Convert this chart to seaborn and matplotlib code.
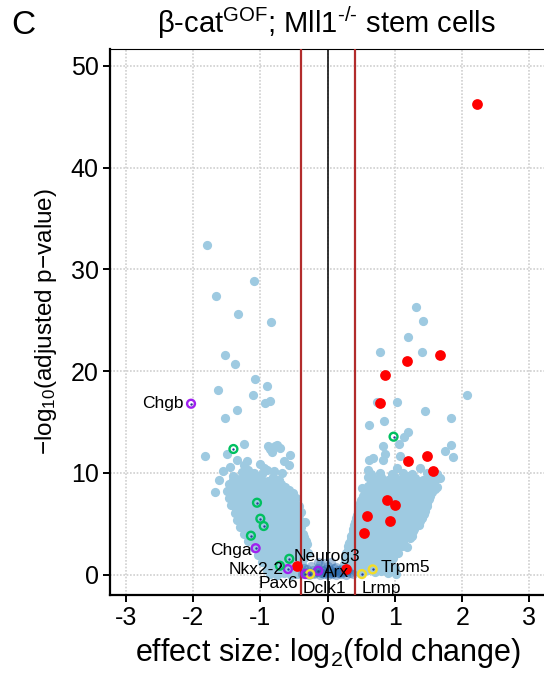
import matplotlib
matplotlib.use("Agg")
import matplotlib.pyplot as plt
import seaborn as sns
import pandas as pd

# ---------------- data ----------------
# light-blue genes: outliers
blue_out_x = [-1.79, -1.09, -1.66, -1.33, -0.84, -1.52, -1.37, -1.08, -0.90, -1.63, -1.11, -0.93,
              -0.86, -1.35, -1.53, -1.24, -0.86, -0.78, -1.82, -1.50, -1.35, -1.25, -1.27, -1.18,
              -0.88, -0.83, -0.75, -0.71, -0.56, -0.58, -0.90, -1.00, -1.10, -1.37, -1.62, -1.67,
              -1.40, -1.45, -0.95, -0.80, -0.68, -1.55, -1.20, -0.65,
              1.31, 1.42, 1.19, 0.78, 1.40, 0.73, 1.03, 1.45, 1.83, 0.61, 0.84, 2.07, 1.20, 1.13,
              1.06, 0.83, 1.83, 1.74, 1.87, 0.85, 0.83, 0.67, 0.62, 1.08, 0.60, 0.60, 1.37, 1.03,
              1.67, 0.51, 1.18]
blue_out_y = [32.4, 28.9, 27.4, 25.65, 24.8, 21.6, 20.7, 19.2, 18.5, 18.1, 17.66, 16.9,
              17.1, 16.2, 15.4, 12.8, 12.35, 12.6, 11.7, 11.86, 11.27, 10.8, 10.1, 10.3,
              12.6, 12.1, 12.7, 12.4, 11.76, 10.8, 10.3, 10.9, 9.96, 9.5, 9.3, 8.15,
              9.3, 10.6, 10.5, 10.2, 10.0, 10.2, 11.2, 11.2,
              26.3, 24.9, 23.4, 21.9, 21.9, 17.0, 17.0, 16.1, 15.4, 14.7, 15.1, 17.7, 14.05, 13.56,
              12.84, 12.6, 12.7, 12.15, 11.6, 11.9, 11.27, 11.46, 11.27, 11.66, 10.3, 9.57, 10.45, 10.45,
              9.47, 8.5, 2.74]

# light-blue genes: dense left wing
left_x = [-1.40, -1.29, -1.17, -1.06, -0.97, -0.81, -0.72,
          -1.35, -1.22, -1.11, -1.00, -0.88, -0.76,
          -1.46, -1.35, -1.23, -1.12, -1.02, -0.93, -0.84, -0.69,
          -1.45, -1.35, -1.25, -1.15, -1.05, -0.95, -0.85, -0.74, -0.63,
          -1.50, -1.41, -1.30, -1.20, -1.09, -1.00, -0.90, -0.79, -0.68, -0.58,
          -1.44, -1.34, -1.24, -1.14, -1.04, -0.94, -0.84, -0.73, -0.63, -0.52,
          -1.47, -1.37, -1.27, -1.17, -1.07, -0.97, -0.87, -0.77, -0.67, -0.57, -0.47,
          -1.40, -1.30, -1.20, -1.10, -1.00, -0.90, -0.80, -0.70, -0.60, -0.50,
          -1.43, -1.33, -1.22, -1.12, -1.02, -0.92, -0.82, -0.72, -0.62, -0.52, -0.43,
          -1.36, -1.26, -1.16, -1.06, -0.96, -0.86, -0.76, -0.66, -0.56, -0.46,
          -1.38, -1.28, -1.18, -1.08, -0.98, -0.88, -0.78, -0.68, -0.58, -0.48, -0.40,
          -1.32, -1.22, -1.12, -1.02, -0.92, -0.82, -0.72, -0.62, -0.52, -0.42,
          -1.35, -1.25, -1.15, -1.05, -0.95, -0.85, -0.75, -0.65, -0.55, -0.45, -0.33,
          -1.27, -1.17, -1.07, -0.97, -0.87, -0.77, -0.67, -0.57, -0.47, -0.38,
          -1.30, -1.20, -1.10, -1.00, -0.90, -0.80, -0.70, -0.60, -0.50, -0.40,
          -1.21, -1.11, -1.01, -0.91, -0.81, -0.71, -0.61, -0.51, -0.41,
          -1.24, -1.14, -1.04, -0.94, -0.84, -0.74, -0.64, -0.54, -0.44, -0.36,
          -1.15, -1.05, -0.95, -0.85, -0.75, -0.65, -0.55, -0.45, -0.35,
          -1.18, -1.08, -0.98, -0.88, -0.78, -0.68, -0.58, -0.48, -0.40, -0.32,
          -1.08, -0.98, -0.88, -0.78, -0.68, -0.58, -0.48, -0.38, -0.30,
          -1.10, -1.00, -0.90, -0.80, -0.70, -0.60, -0.50, -0.42, -0.34,
          -1.02, -0.92, -0.82, -0.72, -0.62, -0.52, -0.43, -0.33,
          -1.03, -0.93, -0.83, -0.73, -0.63, -0.53, -0.45, -0.37, -0.29,
          -0.95, -0.85, -0.75, -0.65, -0.55, -0.45, -0.35,
          -0.97, -0.87, -0.77, -0.67, -0.57, -0.49, -0.41,
          -0.88, -0.78, -0.68, -0.58, -0.48, -0.38,
          -0.90, -0.80, -0.70, -0.60, -0.50, -0.42,
          -0.80, -0.70, -0.60, -0.50, -0.40,
          -0.85, -0.75, -0.65, -0.55, -0.46]
left_y = [9.7, 9.4, 9.8, 9.5, 9.9, 9.6, 9.3,
          9.2, 9.3, 9.2, 9.35, 9.2, 9.3,
          8.9, 9.1, 8.8, 9.0, 8.7, 9.1, 8.8, 8.9,
          8.6, 8.5, 8.7, 8.6, 8.5, 8.7, 8.6, 8.5, 8.6,
          8.2, 8.4, 8.1, 8.4, 8.2, 8.3, 8.1, 8.4, 8.2, 8.3,
          7.9, 8.0, 7.9, 8.0, 7.9, 8.0, 7.9, 8.0, 7.9, 8.0,
          7.5, 7.7, 7.4, 7.6, 7.5, 7.8, 7.5, 7.6, 7.4, 7.7, 7.5,
          7.2, 7.3, 7.2, 7.3, 7.2, 7.3, 7.2, 7.3, 7.2, 7.3,
          6.8, 7.0, 6.9, 6.7, 7.0, 6.8, 6.9, 7.0, 6.8, 6.9, 6.7,
          6.5, 6.6, 6.5, 6.6, 6.5, 6.6, 6.5, 6.6, 6.5, 6.6,
          6.1, 6.3, 6.2, 6.0, 6.3, 6.1, 6.2, 6.0, 6.3, 6.1, 6.2,
          5.8, 5.9, 5.8, 5.9, 5.8, 5.9, 5.8, 5.9, 5.8, 5.9,
          5.4, 5.6, 5.5, 5.3, 5.6, 5.4, 5.5, 5.3, 5.6, 5.4, 5.2,
          5.1, 5.2, 5.1, 5.2, 5.1, 5.2, 5.1, 5.2, 5.1, 5.2,
          4.7, 4.9, 4.8, 4.6, 4.9, 4.7, 4.8, 4.6, 4.9, 4.7,
          4.4, 4.5, 4.4, 4.5, 4.4, 4.5, 4.4, 4.5, 4.4,
          4.0, 4.2, 4.1, 3.9, 4.2, 4.0, 4.1, 3.9, 4.2, 4.0,
          3.7, 3.8, 3.7, 3.8, 3.7, 3.8, 3.7, 3.8, 3.7,
          3.3, 3.5, 3.4, 3.2, 3.5, 3.3, 3.4, 3.2, 3.5, 3.3,
          3.0, 3.1, 3.0, 3.1, 3.0, 3.1, 3.0, 3.1, 3.0,
          2.6, 2.8, 2.7, 2.5, 2.8, 2.6, 2.7, 2.5, 2.8,
          2.3, 2.4, 2.3, 2.4, 2.3, 2.4, 2.3, 2.4,
          1.9, 2.1, 2.0, 1.8, 2.1, 1.9, 2.0, 1.8, 2.1,
          1.6, 1.7, 1.6, 1.7, 1.6, 1.7, 1.6,
          1.2, 1.4, 1.3, 1.1, 1.4, 1.2, 1.3,
          0.9, 1.0, 0.9, 1.0, 0.9, 1.0,
          0.5, 0.7, 0.6, 0.4, 0.7, 0.5,
          0.3, 0.25, 0.3, 0.25, 0.3,
          0.1, 0.0, 0.2, 0.0, 0.1]

# light-blue genes: dense right wing
right_x = [0.65, 0.78, 0.95, 1.12, 1.25, 1.48, 1.62,
           0.70, 0.80, 0.90, 1.00, 1.10, 1.20, 1.30, 1.42, 1.55,
           0.65, 0.75, 0.85, 0.95, 1.05, 1.15, 1.25, 1.35, 1.47, 1.58,
           0.60, 0.70, 0.80, 0.90, 1.00, 1.10, 1.20, 1.30, 1.40, 1.52, 1.62,
           0.58, 0.70, 0.80, 0.90, 1.00, 1.10, 1.20, 1.30, 1.40, 1.50, 1.60,
           0.55, 0.65, 0.75, 0.85, 0.95, 1.05, 1.15, 1.25, 1.35, 1.45, 1.55,
           0.53, 0.63, 0.73, 0.83, 0.93, 1.03, 1.13, 1.23, 1.33, 1.43, 1.52,
           0.50, 0.60, 0.70, 0.80, 0.90, 1.00, 1.10, 1.20, 1.30, 1.40, 1.50,
           0.48, 0.58, 0.68, 0.78, 0.88, 0.98, 1.08, 1.18, 1.28, 1.38, 1.48,
           0.47, 0.57, 0.67, 0.77, 0.87, 0.97, 1.07, 1.17, 1.27, 1.37, 1.47,
           0.45, 0.55, 0.65, 0.75, 0.85, 0.95, 1.05, 1.15, 1.25, 1.35, 1.45,
           0.43, 0.53, 0.63, 0.73, 0.83, 0.93, 1.03, 1.13, 1.23, 1.33, 1.43,
           0.42, 0.52, 0.62, 0.72, 0.82, 0.92, 1.02, 1.12, 1.22, 1.32, 1.40,
           0.40, 0.50, 0.60, 0.70, 0.80, 0.90, 1.00, 1.10, 1.20, 1.30, 1.38,
           0.39, 0.49, 0.59, 0.69, 0.79, 0.89, 0.99, 1.09, 1.19, 1.29, 1.36,
           0.38, 0.48, 0.58, 0.68, 0.78, 0.88, 0.98, 1.08, 1.18, 1.28,
           0.37, 0.47, 0.57, 0.67, 0.77, 0.87, 0.97, 1.07, 1.17, 1.27,
           0.35, 0.45, 0.55, 0.65, 0.75, 0.85, 0.95, 1.05, 1.15, 1.25,
           0.34, 0.44, 0.54, 0.64, 0.74, 0.84, 0.94, 1.04, 1.14, 1.22,
           0.32, 0.42, 0.52, 0.62, 0.72, 0.82, 0.92, 1.02, 1.12,
           0.31, 0.41, 0.51, 0.61, 0.71, 0.81, 0.91, 1.01, 1.10,
           0.30, 0.40, 0.50, 0.60, 0.70, 0.80, 0.90, 1.00,
           0.28, 0.38, 0.48, 0.58, 0.68, 0.78, 0.88, 0.98, 1.05,
           0.27, 0.37, 0.47, 0.57, 0.67, 0.77, 0.87, 0.97,
           0.26, 0.36, 0.46, 0.56, 0.66, 0.76, 0.86, 0.96,
           0.24, 0.34, 0.44, 0.54, 0.64, 0.74, 0.84, 0.94,
           0.22, 0.32, 0.42, 0.52, 0.62, 0.72, 0.82, 0.92, 1.00,
           0.20, 0.30, 0.40, 0.50, 0.60, 0.70, 0.80, 0.90, 1.02]
right_y = [9.9, 10.0, 9.9, 10.0, 9.9, 10.0, 9.9,
           9.4, 9.6, 9.3, 9.6, 9.4, 9.7, 9.5, 9.3, 9.6,
           9.1, 9.2, 9.1, 9.2, 9.1, 9.2, 9.1, 9.2, 9.1, 9.2,
           8.7, 8.9, 8.8, 8.6, 8.9, 8.7, 8.8, 8.6, 8.9, 8.7, 8.6,
           8.4, 8.5, 8.4, 8.5, 8.4, 8.5, 8.4, 8.5, 8.4, 8.5, 8.4,
           8.0, 8.2, 8.1, 7.9, 8.2, 8.0, 8.1, 7.9, 8.2, 8.0, 8.1,
           7.7, 7.8, 7.7, 7.8, 7.7, 7.8, 7.7, 7.8, 7.7, 7.8, 7.7,
           7.3, 7.5, 7.4, 7.2, 7.5, 7.3, 7.4, 7.2, 7.5, 7.3, 7.4,
           7.0, 7.1, 7.0, 7.1, 7.0, 7.1, 7.0, 7.1, 7.0, 7.1, 7.0,
           6.6, 6.8, 6.7, 6.5, 6.8, 6.6, 6.7, 6.5, 6.8, 6.6, 6.7,
           6.3, 6.4, 6.3, 6.4, 6.3, 6.4, 6.3, 6.4, 6.3, 6.4, 6.3,
           5.9, 6.1, 6.0, 5.8, 6.1, 5.9, 6.0, 5.8, 6.1, 5.9, 6.0,
           5.6, 5.7, 5.6, 5.7, 5.6, 5.7, 5.6, 5.7, 5.6, 5.7, 5.6,
           5.2, 5.4, 5.3, 5.1, 5.4, 5.2, 5.3, 5.1, 5.4, 5.2, 5.3,
           4.9, 5.0, 4.9, 5.0, 4.9, 5.0, 4.9, 5.0, 4.9, 5.0, 4.9,
           4.5, 4.7, 4.6, 4.4, 4.7, 4.5, 4.6, 4.4, 4.7, 4.5,
           4.2, 4.3, 4.2, 4.3, 4.2, 4.3, 4.2, 4.3, 4.2, 4.3,
           3.8, 4.0, 3.9, 3.7, 4.0, 3.8, 3.9, 3.7, 4.0, 3.8,
           3.5, 3.6, 3.5, 3.6, 3.5, 3.6, 3.5, 3.6, 3.5, 3.6,
           3.1, 3.3, 3.2, 3.0, 3.3, 3.1, 3.2, 3.0, 3.3,
           2.8, 2.9, 2.8, 2.9, 2.8, 2.9, 2.8, 2.9, 2.8,
           2.4, 2.6, 2.5, 2.3, 2.6, 2.4, 2.5, 2.3,
           2.1, 2.2, 2.1, 2.2, 2.1, 2.2, 2.1, 2.2, 2.1,
           1.7, 1.9, 1.8, 1.6, 1.9, 1.7, 1.8, 1.6,
           1.4, 1.5, 1.4, 1.5, 1.4, 1.5, 1.4, 1.5,
           1.0, 1.2, 1.1, 0.9, 1.2, 1.0, 1.1, 0.9,
           0.7, 0.8, 0.7, 0.8, 0.7, 0.8, 0.7, 0.8, 0.7,
           0.3, 0.5, 0.4, 0.2, 0.5, 0.3, 0.4, 0.2, 0.1]

# small-effect genes (dense, darker blue)
center_x = [-0.38, -0.33, -0.28, -0.24, -0.20, -0.16, -0.12, -0.08, -0.05, -0.02, 0.01, 0.04,
            0.07, 0.10, 0.13, 0.16, 0.20, 0.24, 0.28, 0.33, 0.37,
            -0.35, -0.30, -0.22, -0.15, -0.09, -0.03, 0.03, 0.09, 0.15, 0.22, 0.30,
            -0.25, -0.12, 0.00, 0.12, -0.18, -0.06, 0.06, 0.18,
            -0.32, -0.20, -0.10, -0.01, 0.08, 0.19, 0.27,
            -0.14, -0.04, 0.05]
center_y = [0.1, 0.3, 0.0, 0.2, 0.1, 0.3, 0.0, 0.2, 0.1, 0.3, 0.0, 0.2,
            0.1, 0.3, 0.0, 0.2, 0.1, 0.3, 0.0, 0.2, 0.1,
            0.7, 0.6, 0.5, 0.7, 0.5, 0.6, 0.5, 0.7, 0.5, 0.6, 0.5,
            0.9, 1.0, 0.9, 0.8, 0.4, 0.4, 0.4, 0.4,
            0.2, 0.2, 0.15, 0.2, 0.15, 0.2, 0.25,
            1.2, 1.1, 1.2]

# significant genes of interest (red)
red_x = [2.22, 1.67, 1.18, 0.85, 0.78, 1.48, 1.19, 1.57, 0.88, 1.00, 0.59, 0.93, 0.54, 0.27, -0.46]
red_y = [46.3, 21.6, 21.0, 19.6, 16.9, 11.66, 11.2, 10.15, 7.33, 6.84, 5.73, 5.3, 4.06, 0.6, 0.85]

# marker genes (rings)
gene_names = ["Chgb", "Chga", "Nkx2-2", "Pax6", "Neurog3", "Arx", "Dclk1", "Lrmp", "Trpm5",
              "", "", "", "", "", "", ""]
gene_x = [-2.03, -1.07, -0.59, -0.33, -0.57, -0.14, -0.26, 0.51, 0.67,
          -1.40, -1.05, -1.00, -0.95, -1.14, -0.71, 0.98]
gene_y = [16.8, 2.6, 0.55, 0.06, 1.56, 0.38, 0.06, 0.06, 0.52,
          12.35, 7.07, 5.5, 4.78, 3.83, 0.88, 13.56]
gene_class = ["EEC", "EEC", "EEC", "EEC", "prog", "EEC", "tuft", "tuft", "tuft",
              "prog", "prog", "prog", "prog", "prog", "prog", "prog"]

x_ticks = [-3, -2, -1, 0, 1, 2, 3]
y_ticks = [0, 10, 20, 30, 40, 50]
fc_threshold = 0.4

# ---------------- styling ----------------
sns.set_style("white")
plt.rcParams["font.family"] = ["Liberation Sans", "DejaVu Sans"]
plt.rcParams["mathtext.fontset"] = "custom"
plt.rcParams["mathtext.rm"] = "Liberation Sans"
plt.rcParams["mathtext.it"] = "Liberation Sans:italic"
plt.rcParams["mathtext.bf"] = "Liberation Sans:bold"
plt.rcParams["text.color"] = "black"
plt.rcParams["axes.labelcolor"] = "black"
plt.rcParams["xtick.color"] = "black"
plt.rcParams["ytick.color"] = "black"

ring_colors = {"EEC": "#a020f0", "prog": "#00c060", "tuft": "#f2dc2a"}
label_offsets = {
    "Chgb": (-5, 0, "right", "center"),
    "Chga": (-3, -2, "right", "center"),
    "Nkx2-2": (-3, 0, "right", "center"),
    "Pax6": (-5, -7, "right", "center"),
    "Neurog3": (3, 1.5, "left", "center"),
    "Arx": (3.5, -1.4, "left", "center"),
    "Dclk1": (-5.3, -10.3, "left", "center"),
    "Lrmp": (-0.5, -10.3, "left", "center"),
    "Trpm5": (5.5, 1.2, "left", "center"),
}

fig = plt.figure(figsize=(5.44, 6.79), dpi=100)
ax = fig.add_axes([0.2015, 0.1237, 0.8015, 0.8047])

blue_df = pd.DataFrame({"x": blue_out_x + left_x + right_x, "y": blue_out_y + left_y + right_y})
center_df = pd.DataFrame({"x": center_x, "y": center_y})
red_df = pd.DataFrame({"x": red_x, "y": red_y})
gene_df = pd.DataFrame({"gene": gene_names, "x": gene_x, "y": gene_y, "cls": gene_class})

sns.scatterplot(data=blue_df, x="x", y="y", color="#9ecae1", s=44, linewidth=0, ax=ax, zorder=2)
sns.scatterplot(data=center_df, x="x", y="y", color="#2f6db0", s=44, linewidth=0, alpha=0.4,
                ax=ax, zorder=2.5)

ax.axvline(-fc_threshold, color="#b22c2c", lw=1.6, zorder=3)
ax.axvline(fc_threshold, color="#b22c2c", lw=1.6, zorder=3)
ax.axvline(0, color="black", lw=1.1, zorder=3)

sns.scatterplot(data=red_df, x="x", y="y", color="#ff0000", s=60, linewidth=0, ax=ax, zorder=4)

for cls, col in ring_colors.items():
    sub = gene_df[gene_df["cls"] == cls]
    sns.scatterplot(data=sub, x="x", y="y", facecolor="none", edgecolor=col, s=32,
                    linewidth=1.7, ax=ax, zorder=5)
sns.scatterplot(data=gene_df, x="x", y="y", color="#2a3c9a", s=3, linewidth=0, ax=ax, zorder=5.5)

for _, r in gene_df.iterrows():
    if r["gene"] in label_offsets:
        dx, dy, ha, va = label_offsets[r["gene"]]
        ax.annotate(r["gene"], (r["x"], r["y"]), xytext=(dx, dy), textcoords="offset points",
                    ha=ha, va=va, fontsize=12.5, color="black", zorder=6)

ax.set_xlim(-3.24, 3.24)
ax.set_ylim(-2.0, 51.7)
ax.set_xticks(x_ticks)
ax.set_xticklabels([str(t) for t in x_ticks])
ax.set_yticks(y_ticks)
ax.grid(True, color="#d0d0d0", linestyle=(0, (1, 1)), linewidth=1.2, zorder=0)
ax.set_axisbelow(True)

for side in ["left", "bottom"]:
    ax.spines[side].set_color("black")
    ax.spines[side].set_linewidth(1.6)
ax.spines["top"].set_color("black")
ax.spines["top"].set_linewidth(0.8)
ax.spines["right"].set_visible(False)

ax.tick_params(axis="both", which="major", direction="out", length=5, width=1.4,
               color="black", labelcolor="black", labelsize=18, pad=3, bottom=True, left=True)

ax.set_xlabel(r"effect size: log$_{2}$(fold change)", fontsize=22, labelpad=4)
ax.set_ylabel("\u2212log$_{10}$(adjusted p\u2212value)", fontsize=17.5, labelpad=8)

fig.text(0.601, 0.967, r"β-cat$^{\text{GOF}}$; Mll1$^{\text{-/-}}$ stem cells",
         ha="center", va="center", fontsize=21)
fig.text(0.020, 0.963, "C", ha="left", va="center", fontsize=24)

fig.savefig("out.png", dpi=100)
